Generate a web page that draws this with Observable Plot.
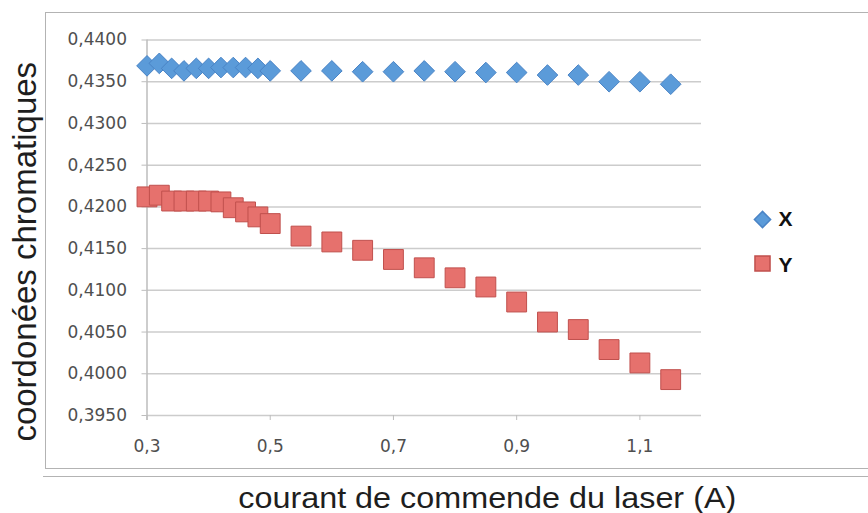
<!DOCTYPE html>
<html><head><meta charset="utf-8">
<script src="https://cdn.jsdelivr.net/npm/d3@7"></script>
<script src="https://cdn.jsdelivr.net/npm/@observablehq/plot@0.6"></script>
<style>
body{margin:0;background:#fff;}
#wrap{position:relative;width:868px;height:513px;overflow:hidden;}
#wrap svg{position:absolute;left:0;top:0;}
#box{position:absolute;left:45px;top:12px;width:840px;height:455px;border:1.5px solid #b3b3b3;pointer-events:none;}
#sep{position:absolute;left:43px;top:476px;width:830px;height:0;border-top:1.5px solid #b3b3b3;pointer-events:none;}
</style></head>
<body><div id="wrap"></div>
<script>
const current = [0.30,0.32,0.34,0.36,0.38,0.40,0.42,0.44,0.46,0.48,0.50,0.55,0.60,0.65,0.70,0.75,0.80,0.85,0.90,0.95,1.00,1.05,1.10,1.15];
const xCoord = [0.4369,0.4372,0.4366,0.4363,0.4366,0.4366,0.4367,0.4367,0.4367,0.4366,0.4363,0.4363,0.4363,0.4362,0.4362,0.4363,0.4362,0.4361,0.4361,0.4358,0.4358,0.4350,0.4350,0.4347];
const yCoord = [0.4212,0.4214,0.4207,0.4207,0.4207,0.4207,0.4206,0.4199,0.4194,0.4188,0.4180,0.4165,0.4158,0.4148,0.4137,0.4127,0.4115,0.4104,0.4086,0.4062,0.4053,0.4029,0.4013,0.3993];
const seriesNames = ["X", "Y"];
const xTicks = [0.3, 0.5, 0.7, 0.9, 1.1];
const yTicks = [0.395, 0.400, 0.405, 0.410, 0.415, 0.420, 0.425, 0.430, 0.435, 0.440];
const xTitle = "courant de commende du laser (A)";
const yTitle = "coordonées chromatiques";

const fmt4 = d => d.toFixed(4).replace(".", ",");
const fmt1 = d => d.toFixed(1).replace(".", ",");
const dataX = current.map((c, i) => ({c, v: xCoord[i]}));
const dataY = current.map((c, i) => ({c, v: yCoord[i]}));

const blueFill = "#5b9bd9", blueStroke = "#4a84c6";
const redFill = "#e6716d", redStroke = "#c0504d";
const frameMidY = (39.5 + 415) / 2;

const chart = Plot.plot({
  width: 868, height: 513,
  marginLeft: 146.5, marginRight: 167, marginTop: 39.5, marginBottom: 98,
  style: {background: "transparent", fontFamily: "DejaVu Sans", overflow: "visible"},
  x: {domain: [0.3, 1.2]},
  y: {domain: [0.395, 0.44]},
  marks: [
    Plot.gridY(yTicks, {stroke: "#cccccc", strokeOpacity: 1, strokeWidth: 1.5}),
    Plot.ruleX([0.3], {stroke: "#bdbdbd", strokeWidth: 1.5, insetBottom: -5}),
    Plot.axisY(yTicks, {tickSize: 5, tickPadding: 15, tickFormat: fmt4, stroke: "#bdbdbd", fill: "#4f4f4f", fontSize: 17, label: null}),
    Plot.axisX(xTicks, {tickSize: 5, tickPadding: 19, tickFormat: fmt1, stroke: "#bdbdbd", fill: "#4f4f4f", fontSize: 17, label: null}),
    Plot.dot(dataX, {x: "c", y: "v", symbol: "diamond2", r: 9.3, fill: blueFill, stroke: blueStroke, strokeWidth: 1}),
    Plot.dot(dataY, {x: "c", y: "v", symbol: "square", r: 11.2, fill: redFill, stroke: redStroke, strokeWidth: 1}),
    Plot.dot([seriesNames[0]], {frameAnchor: "right", dx: 61, dy: 219 - frameMidY, symbol: "diamond2", r: 7.3, fill: blueFill, stroke: blueStroke}),
    Plot.dot([seriesNames[1]], {frameAnchor: "right", dx: 61, dy: 263 - frameMidY, symbol: "square", r: 8.5, fill: redFill, stroke: redStroke}),
    Plot.text([seriesNames[0]], {text: d => d, frameAnchor: "right", textAnchor: "start", dx: 77, dy: 219 - frameMidY, fontSize: 21, fontWeight: "bold", fontFamily: "Liberation Sans", fill: "#111"}),
    Plot.text([seriesNames[1]], {text: d => d, frameAnchor: "right", textAnchor: "start", dx: 77, dy: 265 - frameMidY, fontSize: 21, fontWeight: "bold", fontFamily: "Liberation Sans", fill: "#111"}),
    Plot.text([xTitle], {text: d => d, frameAnchor: "bottom", textAnchor: "middle", dx: 63, dy: 83, lineAnchor: "middle", fontSize: 29, fontFamily: "Liberation Sans", fill: "#1e1e1e"}),
    Plot.text([yTitle], {text: d => d, frameAnchor: "left", textAnchor: "middle", rotate: -90, dx: -122, dy: 24, lineAnchor: "middle", fontSize: 33, fontFamily: "Liberation Sans", fill: "#1e1e1e"})
  ]
});

d3.select(chart).selectAll("text")
  .filter(function() { return this.textContent === xTitle; })
  .attr("textLength", 498).attr("lengthAdjust", "spacingAndGlyphs");

const wrap = document.getElementById("wrap");
wrap.appendChild(chart);
const box = document.createElement("div"); box.id = "box"; wrap.appendChild(box);
const sep = document.createElement("div"); sep.id = "sep"; wrap.appendChild(sep);
</script>
</body></html>
